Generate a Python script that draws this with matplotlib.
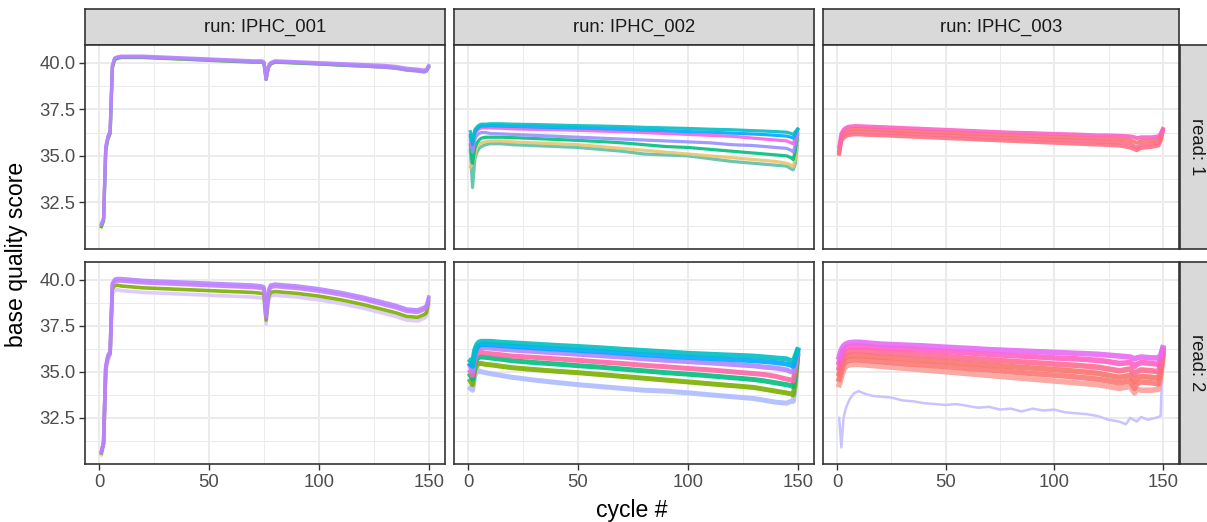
"""Per-cycle base quality by run and read (facet grid, ggplot theme_bw look)."""

import matplotlib
matplotlib.use("Agg")
import matplotlib.pyplot as plt
from matplotlib.ticker import FixedLocator

plt.rcParams["font.family"] = ["Liberation Sans", "DejaVu Sans"]

RUNS = ["IPHC_001", "IPHC_002", "IPHC_003"]
READS = ["1", "2"]

# ---- IPHC_001 ----
CYC_001 = [1, 2, 3, 4, 5, 6, 7, 8, 10, 15, 20, 30, 40, 50, 60, 70,
           74, 75, 76, 77, 78, 80, 90, 100, 110, 120, 130, 135, 140, 145, 148, 149, 150]
IPHC001_R1_COLORS = ["#39B600", "#A58AFF", "#B983FF"]
IPHC001_R1 = [
    [31.2, 31.5, 35.3, 35.9, 36.2, 39.7, 40.15, 40.22, 40.28, 40.28, 40.28, 40.23, 40.18, 40.13, 40.08, 40.03,
     40.03, 39.98, 39.1, 39.72, 39.92, 40.03, 39.98, 39.93, 39.87, 39.82, 39.77, 39.72, 39.62, 39.57, 39.52, 39.57, 39.78],
    [31.35, 31.65, 35.5, 36.05, 36.35, 39.85, 40.2, 40.27, 40.3, 40.3, 40.3, 40.25, 40.2, 40.15, 40.1, 40.05,
     40.05, 40.0, 39.1, 39.75, 39.95, 40.05, 40.0, 39.95, 39.88, 39.82, 39.75, 39.7, 39.6, 39.55, 39.5, 39.55, 39.75],
    [31.3, 31.6, 35.4, 36.0, 36.3, 39.8, 40.25, 40.3, 40.35, 40.35, 40.35, 40.3, 40.25, 40.2, 40.15, 40.1,
     40.1, 40.05, 39.15, 39.8, 40.0, 40.1, 40.05, 40.0, 39.95, 39.9, 39.85, 39.8, 39.7, 39.65, 39.6, 39.65, 39.85],
]
IPHC001_R2_COLORS = ["#DCC6FF", "#7CAE00", "#C77CFF", "#B983FF"]
IPHC001_R2 = [
    [30.5, 31.0, 35.0, 35.6, 35.9, 39.2, 39.4, 39.45, 39.4, 39.35, 39.3, 39.25, 39.2, 39.15, 39.1, 39.05,
     39.0, 38.95, 37.6, 38.8, 39.1, 39.15, 39.05, 38.9, 38.7, 38.45, 38.15, 38.0, 37.8, 37.75, 37.9, 38.0, 38.6],
    [30.6, 31.1, 35.2, 35.8, 36.0, 39.5, 39.65, 39.7, 39.65, 39.6, 39.55, 39.5, 39.45, 39.4, 39.35, 39.3,
     39.25, 39.2, 37.8, 39.0, 39.3, 39.35, 39.25, 39.1, 38.9, 38.65, 38.35, 38.2, 38.0, 37.95, 38.1, 38.2, 38.8],
    [30.65, 31.15, 35.25, 35.85, 36.05, 39.7, 39.88, 39.92, 39.92, 39.87, 39.82, 39.77, 39.72, 39.67, 39.62, 39.57,
     39.52, 39.47, 37.95, 39.27, 39.57, 39.62, 39.52, 39.37, 39.17, 38.92, 38.62, 38.47, 38.27, 38.22, 38.37, 38.47, 38.95],
    [30.7, 31.2, 35.3, 35.9, 36.1, 39.8, 40.0, 40.05, 40.05, 40.0, 39.95, 39.9, 39.85, 39.8, 39.75, 39.7,
     39.65, 39.6, 38.1, 39.4, 39.7, 39.75, 39.65, 39.5, 39.3, 39.05, 38.75, 38.6, 38.4, 38.35, 38.5, 38.6, 39.05],
]

# ---- IPHC_002 ----
CYC_002 = [1, 2, 3, 4, 5, 6, 8, 10, 15, 20, 30, 40, 50, 60, 70, 80, 90, 100,
           110, 120, 130, 135, 140, 145, 147, 148, 149, 150]
IPHC002_R1_COLORS = ["#5BBFA8", "#E8C56E", "#00BF7D", "#9590FF", "#F564E3", "#00A9FF", "#00BFC4"]
IPHC002_R1 = [
    [35.3, 33.3, 34.8, 35.2, 35.4, 35.5, 35.6, 35.65, 35.65, 35.6, 35.55, 35.5, 35.45, 35.35, 35.25, 35.1, 35.05, 35.0,
     34.85, 34.7, 34.6, 34.55, 34.5, 34.45, 34.3, 34.25, 34.6, 35.8],
    [34.4, 34.6, 35.0, 35.5, 35.6, 35.7, 35.75, 35.8, 35.8, 35.75, 35.7, 35.65, 35.6, 35.5, 35.4, 35.3, 35.2, 35.1,
     35.0, 34.9, 34.8, 34.75, 34.7, 34.6, 34.5, 34.4, 34.9, 35.9],
    [35.6, 34.6, 35.4, 35.7, 35.85, 35.95, 36.0, 36.0, 36.0, 35.98, 35.93, 35.88, 35.83, 35.77, 35.7, 35.6, 35.5, 35.45,
     35.35, 35.25, 35.15, 35.1, 35.05, 35.0, 34.9, 34.8, 35.3, 36.1],
    [35.8, 35.2, 35.9, 36.1, 36.2, 36.25, 36.25, 36.2, 36.18, 36.15, 36.1, 36.05, 36.0, 35.95, 35.9, 35.85, 35.8, 35.75,
     35.7, 35.6, 35.55, 35.5, 35.45, 35.4, 35.3, 35.2, 35.6, 36.2],
    [36.0, 35.5, 36.2, 36.35, 36.45, 36.5, 36.5, 36.5, 36.48, 36.45, 36.42, 36.4, 36.37, 36.33, 36.3, 36.25, 36.2, 36.15,
     36.1, 36.05, 35.95, 35.9, 35.85, 35.8, 35.7, 35.65, 36.0, 36.4],
    [36.1, 35.6, 36.25, 36.45, 36.55, 36.6, 36.6, 36.62, 36.6, 36.58, 36.55, 36.52, 36.5, 36.46, 36.43, 36.38, 36.35, 36.3,
     36.27, 36.22, 36.17, 36.14, 36.1, 36.06, 36.0, 35.95, 36.2, 36.4],
    [36.3, 35.8, 36.4, 36.55, 36.65, 36.7, 36.7, 36.72, 36.72, 36.7, 36.68, 36.65, 36.62, 36.6, 36.57, 36.53, 36.5, 36.47,
     36.43, 36.4, 36.35, 36.33, 36.3, 36.27, 36.2, 36.15, 36.3, 36.45],
]
IPHC002_R2_COLORS = ["#AEBBFF", "#7CAE00", "#00BF7D", "#FF67A4", "#B385FF", "#00A9FF", "#00BFC4"]
IPHC002_R2 = [
    [34.1, 34.0, 34.8, 35.0, 35.05, 35.0, 34.95, 34.9, 34.8, 34.7, 34.55, 34.42, 34.3, 34.2, 34.1, 34.0, 33.95, 33.86,
     33.75, 33.65, 33.55, 33.45, 33.35, 33.3, 33.4, 33.4, 34.2, 35.9],
    [34.5, 34.3, 35.1, 35.35, 35.45, 35.45, 35.4, 35.38, 35.3, 35.22, 35.12, 35.03, 34.95, 34.85, 34.75, 34.65, 34.55, 34.45,
     34.35, 34.25, 34.15, 34.05, 33.95, 33.85, 33.8, 33.75, 34.5, 35.8],
    [34.8, 34.6, 35.4, 35.7, 35.8, 35.8, 35.78, 35.75, 35.68, 35.6, 35.5, 35.42, 35.33, 35.25, 35.15, 35.05, 34.95, 34.87,
     34.78, 34.68, 34.58, 34.5, 34.4, 34.3, 34.25, 34.2, 34.9, 35.9],
    [35.0, 34.8, 35.7, 35.95, 36.05, 36.05, 36.0, 35.98, 35.92, 35.85, 35.78, 35.7, 35.62, 35.53, 35.45, 35.35, 35.27, 35.18,
     35.1, 35.0, 34.9, 34.85, 34.75, 34.6, 34.55, 34.5, 35.2, 36.0],
    [35.3, 35.0, 35.9, 36.2, 36.3, 36.3, 36.3, 36.28, 36.22, 36.18, 36.1, 36.03, 35.95, 35.87, 35.8, 35.7, 35.62, 35.55,
     35.48, 35.4, 35.32, 35.25, 35.2, 35.1, 35.0, 35.0, 35.5, 36.1],
    [35.4, 35.3, 36.0, 36.3, 36.45, 36.48, 36.48, 36.47, 36.42, 36.38, 36.3, 36.23, 36.16, 36.09, 36.01, 35.93, 35.85, 35.78,
     35.72, 35.66, 35.6, 35.55, 35.5, 35.42, 35.35, 35.3, 35.7, 36.15],
    [35.6, 35.5, 36.2, 36.5, 36.62, 36.65, 36.65, 36.65, 36.6, 36.57, 36.5, 36.43, 36.37, 36.3, 36.22, 36.15, 36.08, 36.0,
     35.95, 35.9, 35.85, 35.8, 35.75, 35.7, 35.6, 35.55, 35.9, 36.2],
]

# ---- IPHC_003 ----
CYC_003 = [1, 2, 3, 4, 5, 6, 8, 10, 15, 20, 30, 40, 50, 60, 70, 80, 90, 100,
           110, 120, 125, 130, 135, 137, 138, 140, 145, 148, 149, 150]
IPHC003_R1_COLORS = ["#FC717F", "#FF6C91", "#F8766D", "#FF61C3"]
IPHC003_R1 = [
    [35.1, 35.8, 35.95, 36.05, 36.1, 36.12, 36.15, 36.15, 36.12, 36.1, 36.05, 36.0, 35.95, 35.9, 35.85, 35.8, 35.75, 35.7,
     35.65, 35.6, 35.58, 35.55, 35.45, 35.35, 35.3, 35.42, 35.48, 35.55, 35.8, 36.3],
    [35.2, 35.9, 36.1, 36.2, 36.25, 36.28, 36.3, 36.3, 36.27, 36.25, 36.2, 36.15, 36.1, 36.05, 36.0, 35.95, 35.9, 35.86,
     35.82, 35.77, 35.75, 35.72, 35.65, 35.5, 35.45, 35.6, 35.65, 35.7, 35.9, 36.35],
    [35.3, 36.05, 36.25, 36.35, 36.4, 36.43, 36.45, 36.45, 36.42, 36.4, 36.35, 36.3, 36.25, 36.2, 36.15, 36.1, 36.06, 36.02,
     35.98, 35.93, 35.92, 35.9, 35.85, 35.75, 35.7, 35.8, 35.82, 35.88, 36.05, 36.4],
    [35.5, 36.2, 36.4, 36.5, 36.55, 36.58, 36.6, 36.6, 36.57, 36.55, 36.5, 36.45, 36.4, 36.35, 36.3, 36.25, 36.22, 36.18,
     36.15, 36.1, 36.1, 36.08, 36.05, 36.0, 35.95, 36.0, 36.0, 36.05, 36.2, 36.45],
]
IPHC003_R2_COLORS = ["#F9A19A", "#FA7876", "#F8766D", "#FF6C91", "#FF61C3", "#E76BF3"]
IPHC003_R2 = [
    [34.3, 34.7, 35.1, 35.3, 35.35, 35.38, 35.4, 35.4, 35.35, 35.3, 35.2, 35.1, 35.0, 34.9, 34.8, 34.7, 34.6, 34.5,
     34.4, 34.3, 34.2, 34.1, 34.2, 33.85, 34.05, 34.0, 34.0, 34.05, 34.7, 35.8],
    [34.6, 35.0, 35.4, 35.55, 35.6, 35.63, 35.65, 35.65, 35.6, 35.55, 35.45, 35.37, 35.28, 35.18, 35.1, 35.0, 34.9, 34.82,
     34.72, 34.6, 34.5, 34.4, 34.5, 34.1, 34.35, 34.45, 34.4, 34.35, 34.9, 35.9],
    [34.9, 35.3, 35.65, 35.8, 35.85, 35.88, 35.9, 35.9, 35.85, 35.8, 35.72, 35.63, 35.55, 35.45, 35.37, 35.28, 35.2, 35.12,
     35.03, 34.92, 34.8, 34.7, 34.8, 34.45, 34.65, 34.75, 34.7, 34.65, 35.1, 36.0],
    [35.2, 35.6, 35.9, 36.05, 36.1, 36.12, 36.15, 36.15, 36.1, 36.05, 35.98, 35.9, 35.82, 35.73, 35.65, 35.57, 35.5, 35.42,
     35.35, 35.25, 35.15, 35.05, 35.15, 34.85, 35.0, 35.1, 35.05, 35.0, 35.4, 36.1],
    [35.5, 35.9, 36.2, 36.3, 36.35, 36.38, 36.4, 36.4, 36.35, 36.3, 36.25, 36.18, 36.1, 36.03, 35.95, 35.88, 35.82, 35.75,
     35.7, 35.62, 35.55, 35.45, 35.5, 35.3, 35.4, 35.5, 35.45, 35.4, 35.7, 36.2],
    [35.8, 36.2, 36.4, 36.5, 36.55, 36.58, 36.6, 36.6, 36.55, 36.5, 36.45, 36.4, 36.33, 36.27, 36.2, 36.15, 36.1, 36.05,
     36.0, 35.95, 35.9, 35.85, 35.8, 35.7, 35.75, 35.8, 35.75, 35.75, 35.9, 36.3],
]
# one low-quality sample in IPHC_003 read 2
OUTLIER_CYC = [1, 2, 3, 4, 5, 6, 8, 10, 13, 16, 20, 25, 30, 35, 40, 45, 50, 55, 60, 65, 70,
               75, 80, 85, 90, 95, 100, 105, 110, 115, 120, 125, 130, 133, 135, 138, 140, 143, 145, 148, 149, 150]
OUTLIER_Q = [32.5, 30.9, 32.5, 33.0, 33.3, 33.55, 33.85, 33.95, 33.8, 33.7, 33.65, 33.6, 33.45, 33.4, 33.3,
             33.25, 33.2, 33.25, 33.15, 33.05, 33.1, 32.95, 33.0, 32.85, 33.0, 32.9, 32.95, 32.8, 32.75, 32.7,
             32.6, 32.4, 32.3, 32.15, 32.5, 32.3, 32.55, 32.4, 32.45, 32.55, 32.6, 36.1]
OUTLIER_COLOR = "#C9C4FF"

PANELS = {
    ("IPHC_001", "1"): (CYC_001, IPHC001_R1, IPHC001_R1_COLORS, 2.4),
    ("IPHC_001", "2"): (CYC_001, IPHC001_R2, IPHC001_R2_COLORS, 2.6),
    ("IPHC_002", "1"): (CYC_002, IPHC002_R1, IPHC002_R1_COLORS, 2.3),
    ("IPHC_002", "2"): (CYC_002, IPHC002_R2, IPHC002_R2_COLORS, 3.6),
    ("IPHC_003", "1"): (CYC_003, IPHC003_R1, IPHC003_R1_COLORS, 2.8),
    ("IPHC_003", "2"): (CYC_003, IPHC003_R2, IPHC003_R2_COLORS, 4.0),
}

# ---- layout in pixels ----
W, H = 1207, 522
COL_X = [(85, 445), (454, 814), (823, 1179)]
ROW_Y = [(45, 249), (262, 464)]
STRIP_TOP = 9
STRIP_RIGHT = (1180, 1216)
RIGHT_TEXT_X = 1196

BORDER = "#333333"
GRID = "#EBEBEB"
STRIP_BG = "#D9D9D9"
SMALL = 13.3
TITLE = 16.6

fig = plt.figure(figsize=(W / 100, H / 100), dpi=100)


def px_axes(left, top, right, bottom):
    return fig.add_axes([left / W, 1 - bottom / H, (right - left) / W, (bottom - top) / H])


def strip(left, top, right, bottom, label, rotation=0, text_x=None):
    ax = px_axes(left, top, right, bottom)
    ax.set_facecolor(STRIP_BG)
    ax.set_xticks([])
    ax.set_yticks([])
    for sp in ax.spines.values():
        sp.set_color(BORDER)
        sp.set_linewidth(1.2)
    tx = 0.5 if text_x is None else (text_x - left) / (right - left)
    ax.text(tx, 0.5, label, transform=ax.transAxes, ha="center", va="center",
            rotation=rotation, fontsize=SMALL, color="#1A1A1A")
    return ax


for ci, run in enumerate(RUNS):
    x0, x1 = COL_X[ci]
    strip(x0, STRIP_TOP, x1, ROW_Y[0][0], f"run: {run}")
    for ri, read in enumerate(READS):
        y0, y1 = ROW_Y[ri]
        ax = px_axes(x0, y0, x1, y1)
        cycles, lines, colors, lw = PANELS[(run, read)]
        if (run, read) == ("IPHC_003", "2"):
            ax.plot(OUTLIER_CYC, OUTLIER_Q, color=OUTLIER_COLOR, lw=1.8, solid_joinstyle="round")
        for vals, col in zip(lines, colors):
            ax.plot(cycles, vals, color=col, lw=lw, alpha=0.9, solid_joinstyle="round")

        ax.set_xlim(-6.45, 157.45)
        ax.set_ylim(30.0, 40.95)
        ax.xaxis.set_major_locator(FixedLocator([0, 50, 100, 150]))
        ax.xaxis.set_minor_locator(FixedLocator([25, 75, 125]))
        ax.yaxis.set_major_locator(FixedLocator([32.5, 35.0, 37.5, 40.0]))
        ax.yaxis.set_minor_locator(FixedLocator([31.25, 33.75, 36.25, 38.75]))
        ax.set_axisbelow(True)
        ax.grid(which="major", color=GRID, lw=1.4)
        ax.grid(which="minor", color=GRID, lw=0.7)
        for sp in ax.spines.values():
            sp.set_color(BORDER)
            sp.set_linewidth(1.2)
        ax.tick_params(which="minor", length=0)
        ax.tick_params(which="major", length=4.0, width=1.0, color=BORDER,
                       labelsize=SMALL, labelcolor="#4D4D4D", pad=3)
        if ci == 0:
            ax.set_yticklabels(["32.5", "35.0", "37.5", "40.0"])
        else:
            ax.tick_params(axis="y", which="major", length=0, labelleft=False)
        if ri == 1:
            ax.set_xticklabels(["0", "50", "100", "150"])
        else:
            ax.tick_params(axis="x", which="major", length=0, labelbottom=False)

for ri, read in enumerate(READS):
    y0, y1 = ROW_Y[ri]
    strip(STRIP_RIGHT[0], y0, STRIP_RIGHT[1], y1, f"read: {read}", rotation=-90,
          text_x=RIGHT_TEXT_X)

fig.text((COL_X[0][0] + COL_X[2][1]) / 2 / W, 1 - 511 / H, "cycle #",
         ha="center", va="center", fontsize=TITLE, color="black")
fig.text(17 / W, 1 - (ROW_Y[0][0] + ROW_Y[1][1]) / 2 / H, "base quality score",
         ha="center", va="center", rotation=90, fontsize=TITLE, color="black")

fig.savefig("out.png", dpi=100)
